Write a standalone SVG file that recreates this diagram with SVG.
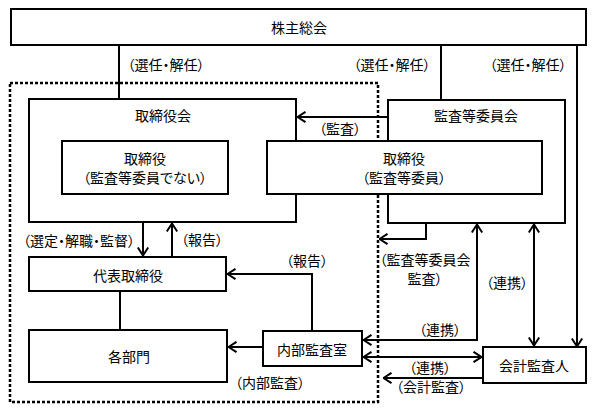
<svg xmlns="http://www.w3.org/2000/svg" width="602" height="413" viewBox="0 0 602 413">
<defs>
<style>
.box{fill:#fff;stroke:#000;stroke-width:2}
.ln{fill:none;stroke:#000;stroke-width:2}
.arr{marker-end:url(#ah)}
.both{marker-start:url(#ah);marker-end:url(#ah)}
text{font-family:"Noto Sans CJK JP","Noto Sans CJK SC",sans-serif;font-size:14px;fill:#000;text-anchor:middle;dominant-baseline:central;font-feature-settings:"palt"}
</style>
<marker id="ah" viewBox="0 0 10 12" refX="9.5" refY="6" markerWidth="10" markerHeight="12" markerUnits="userSpaceOnUse" orient="auto-start-reverse">
<path d="M1,0.8 L9,6 L1,11.2" fill="none" stroke="#000" stroke-width="2"/>
</marker>
</defs>
<rect width="602" height="413" fill="#fff"/>
<rect x="10" y="83" width="368" height="319" fill="none" stroke="#000" stroke-width="2.5" stroke-dasharray="3 2"/>
<g id="connectors">
<path class="ln arr" d="M119,45 V137"/>
<path class="ln" d="M441,45 V100"/>
<path class="ln arr" d="M577,45 V347"/>
<path class="ln arr" d="M388,117 H297"/>
<path class="ln arr" d="M426,223 V239 H379"/>
<path class="ln arr" d="M143,222 V256"/>
<path class="ln arr" d="M172,257 V223"/>
<path class="ln arr" d="M312,331 V274 H227"/>
<path class="ln" d="M120,291 V330"/>
<path class="ln arr" d="M263,347 H228"/>
<path class="ln both" d="M363,340 H477 V224"/>
<path class="ln both" d="M534,224 V346"/>
<path class="ln both" d="M363,357 H482"/>
<path class="ln arr" d="M483,378 H383"/>
<text x="166" y="64">（選任・解任）</text>
<text x="392" y="64">（選任・解任）</text>
<text x="528" y="64">（選任・解任）</text>
<text x="340" y="128">（監査）</text>
<text x="425" y="259">（監査等委員会</text>
<text x="425" y="278">監査）</text>
<text x="79" y="240">（選定・解職・監督）</text>
<text x="202" y="239">（報告）</text>
<text x="307" y="260">（報告）</text>
<text x="507" y="282">（連携）</text>
<text x="440" y="329">（連携）</text>
<text x="430" y="367">（連携）</text>
<text x="431" y="386">（会計監査）</text>
<text x="270" y="382">（内部監査）</text>
</g>
<g id="shareholders">
<rect class="box" x="11" y="9" width="575" height="36"/>
<text x="299" y="27">株主総会</text>
</g>
<g id="board">
<rect class="box" x="29" y="99" width="267" height="123"/>
<text x="163" y="115">取締役会</text>
</g>
<g id="audit-committee">
<rect class="box" x="388" y="100" width="177" height="123"/>
<text x="476" y="115">監査等委員会</text>
</g>
<g id="director-non">
<rect class="box" x="62" y="141" width="166" height="53"/>
<text x="145" y="158">取締役</text>
<text x="145" y="177">（監査等委員でない）</text>
</g>
<g id="director-ac">
<rect class="box" x="267" y="141" width="275" height="53"/>
<text x="404" y="158">取締役</text>
<text x="404" y="177">（監査等委員）</text>
</g>
<g id="representative">
<rect class="box" x="29" y="257" width="197" height="34"/>
<text x="128" y="275">代表取締役</text>
</g>
<g id="departments">
<rect class="box" x="29" y="330" width="198" height="52"/>
<text x="129" y="356">各部門</text>
</g>
<g id="internal-audit">
<rect class="box" x="263" y="331" width="99" height="35"/>
<text x="312" y="349">内部監査室</text>
</g>
<g id="accounting-auditor">
<rect class="box" x="483" y="347" width="103" height="36"/>
<text x="534" y="365">会計監査人</text>
</g>
</svg>
